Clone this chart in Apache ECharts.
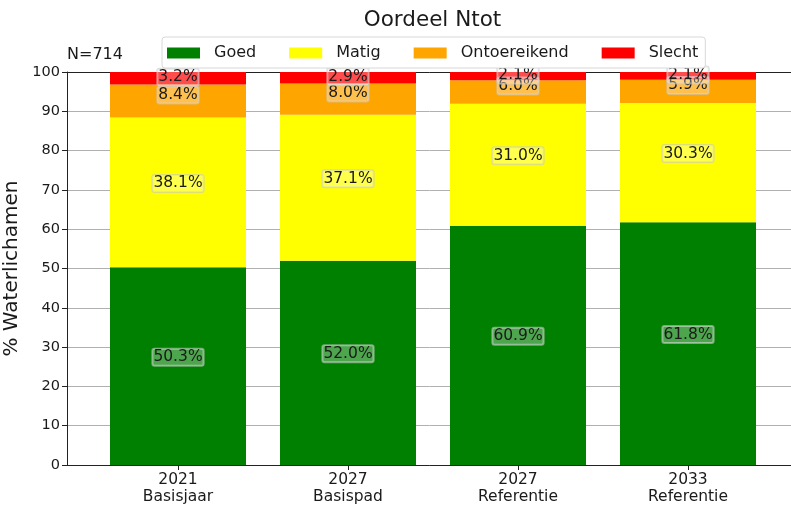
<!DOCTYPE html>
<html>
<head>
<meta charset="utf-8">
<script src="https://cdn.jsdelivr.net/npm/echarts@6/dist/echarts.min.js"></script>
<style>
  html, body { margin: 0; padding: 0; background: #fff; }
  #chart { width: 791px; height: 506px; }
</style>
</head>
<body>
<div id="chart"></div>
<script>
// categories (year + scenario)
const categories = ['2021\nBasisjaar', '2027\nBasispad', '2027\nReferentie', '2033\nReferentie']
// percentages per judgement
const goed = [50.3, 52.0, 60.9, 61.8]
const matig = [38.1, 37.1, 31.0, 30.3]
const ontoereikend = [8.4, 8.0, 6.0, 5.9]
const slecht = [3.2, 2.9, 2.1, 2.1]
const yTicks = [0, 10, 20, 30, 40, 50, 60, 70, 80, 90, 100]

const FONT = 'DejaVu Sans'

const chart = echarts.init(document.getElementById('chart'), null, { renderer: 'canvas' })

function makeSeries(name, values, color, dy) {
  return {
    name: name,
    type: 'bar',
    stack: 'total',
    xAxisIndex: 2,
    yAxisIndex: 1,
    barWidth: '80%',
    data: values,
    itemStyle: { color: color },
    label: {
      show: true,
      position: 'inside',
      offset: [0, dy],
      formatter: p => p.value.toFixed(1) + '%',
      fontFamily: FONT,
      fontSize: 15.5,
      color: '#1a1a1a',
      backgroundColor: 'rgba(255,255,255,0.3)',
      borderColor: 'rgba(200,200,200,0.6)',
      borderWidth: 1,
      borderRadius: 2,
      padding: [1, 1, 0, 1]
    },
    emphasis: { disabled: true },
    animation: false
  }
}

chart.setOption({
  animation: false,
  graphic: [
    {
      type: 'text', x: 432.5, y: 9,
      style: { text: 'Oordeel Ntot', font: '21.5px "DejaVu Sans"', fill: '#1a1a1a', textAlign: 'center' }
    },
    {
      type: 'text', x: 67, y: 47,
      style: { text: 'N=714', font: '16px "DejaVu Sans"', fill: '#1a1a1a' }
    }
  ],
  legend: {
    left: 162,
    top: 37,
    padding: [8, 7, 7, 5],
    backgroundColor: '#fff',
    borderColor: '#d8d8d8',
    borderWidth: 1,
    borderRadius: 3,
    itemWidth: 33,
    itemHeight: 11,
    itemGap: 33,
    icon: 'rect',
    textStyle: { fontFamily: FONT, fontSize: 16, color: '#1a1a1a', padding: [0, 0, 0, 9] },
    data: ['Goed', 'Matig', 'Ontoereikend', 'Slecht']
  },
  grid: [
    { left: 67, top: 72, width: 730, height: 393, outerBoundsMode: 'none' },
    { left: 93, top: 72, width: 680, height: 393, outerBoundsMode: 'none' }
  ],
  xAxis: [
    {
      gridIndex: 0, type: 'value', min: 0, max: 1,
      axisLine: { show: true, lineStyle: { color: '#222', width: 1 } },
      axisTick: { show: false }, axisLabel: { show: false }, splitLine: { show: false }
    },
    {
      gridIndex: 0, type: 'value', position: 'top', min: 0, max: 1,
      axisLine: { show: true, onZero: false, lineStyle: { color: '#222', width: 1 } },
      axisTick: { show: false }, axisLabel: { show: false }, splitLine: { show: false }
    },
    {
      gridIndex: 1, type: 'category', data: categories,
      axisLine: { show: false },
      axisTick: { show: true, alignWithLabel: true, length: 5, lineStyle: { color: '#222' } },
      axisLabel: { fontFamily: FONT, fontSize: 15.5, color: '#1a1a1a', lineHeight: 17, margin: 6 }
    }
  ],
  yAxis: [
    {
      gridIndex: 0, type: 'value', min: 0, max: 100, interval: 10,
      name: '% Waterlichamen', nameLocation: 'middle', nameGap: 36,
      nameTextStyle: { fontFamily: FONT, fontSize: 20, color: '#1a1a1a' },
      axisLine: { show: true, lineStyle: { color: '#222', width: 1 } },
      axisTick: { show: true, length: 5, lineStyle: { color: '#222' } },
      axisLabel: {
        fontFamily: FONT, fontSize: 14.5, color: '#1a1a1a', margin: 7,
        formatter: v => (yTicks.indexOf(v) >= 0 ? String(v) : '')
      },
      splitLine: { show: true, lineStyle: { color: '#b0b0b0', width: 1 } }
    },
    {
      gridIndex: 1, type: 'value', min: 0, max: 100, show: false,
      splitLine: { show: false }
    }
  ],
  series: [
    makeSeries('Goed', goed, '#008000', -9),
    makeSeries('Matig', matig, '#ffff00', -9),
    makeSeries('Ontoereikend', ontoereikend, '#ffa500', -6),
    makeSeries('Slecht', slecht, '#ff0000', -1)
  ]
})
</script>
</body>
</html>
